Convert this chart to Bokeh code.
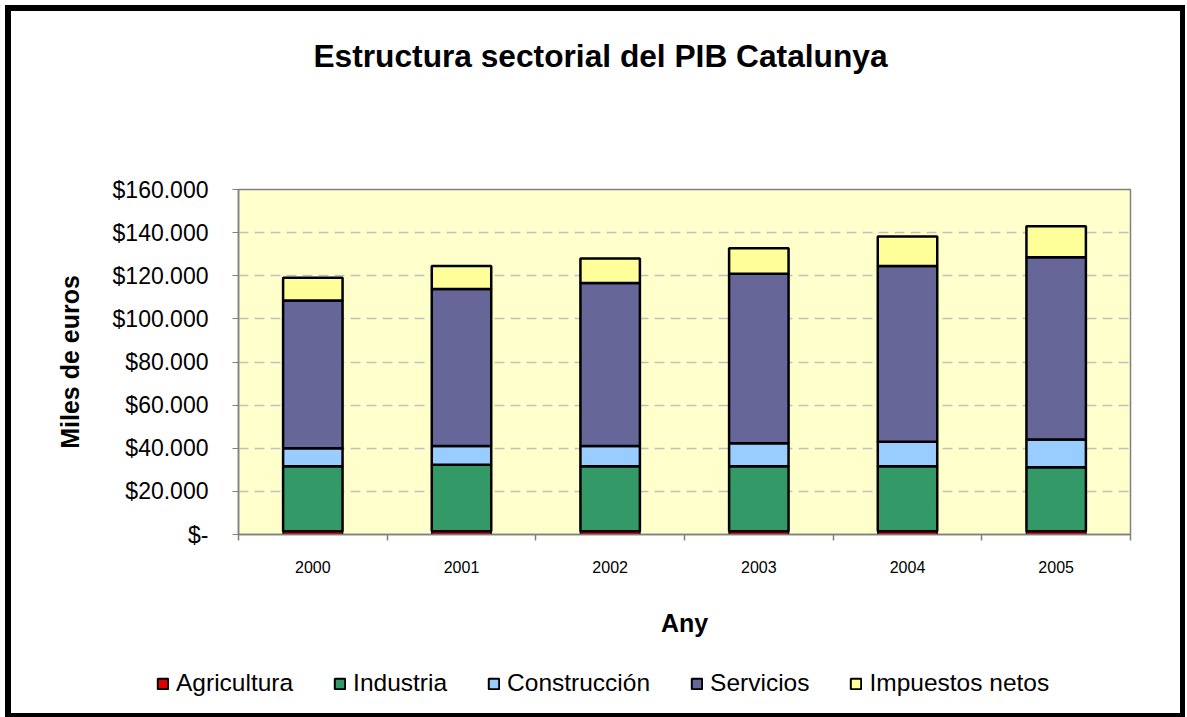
from bokeh.plotting import figure
from bokeh.layouts import column
from bokeh.models import FixedTicker, Legend, LegendItem, ColumnDataSource, Label
from bokeh.embed import file_html
from bokeh.resources import INLINE

# ---- data (thousands of euros) ----
years = ["2000", "2001", "2002", "2003", "2004", "2005"]
agricultura = [1500, 1500, 1500, 1500, 1500, 1500]
industria = [30200, 30800, 30200, 30200, 30200, 29700]
construccion = [8300, 8800, 9400, 10600, 11300, 12900]
servicios = [68500, 72700, 75500, 78600, 81500, 84500]
impuestos = [10600, 10700, 11400, 11900, 13700, 14400]

series_names = ["Agricultura", "Industria", "Construcción", "Servicios", "Impuestos netos"]
series_keys = ["agri", "ind", "cons", "serv", "imp"]
colors = ["#E00000", "#339966", "#99CCFF", "#666699", "#FFFF99"]
y_ticks = [0, 20000, 40000, 60000, 80000, 100000, 120000, 140000, 160000]
title_text = "Estructura sectorial del PIB Catalunya"

FONT = "Liberation Sans"
W = 1180


def strip(height, borders, margin):
    f = figure(width=W, height=height, output_backend="svg", toolbar_location=None,
               x_range=(-10, -9), y_range=(-10, -9), min_border=0,
               x_axis_location=None, y_axis_location=None,
               styles={"border-style": "solid", "border-color": "black", "border-width": borders})
    f.margin = margin
    f.frame_align = False
    f.grid.visible = False
    f.outline_line_color = None
    f.background_fill_color = "white"
    f.border_fill_color = "white"
    return f


xpos = [i + 0.5 for i in range(len(years))]
source = ColumnDataSource(dict(x=xpos, agri=agricultura, ind=industria, cons=construccion,
                               serv=servicios, imp=impuestos))

# ---- title strip ----
tf = strip(100, "6px 5px 0 6px", (5, 0, 0, 5))
tf.add_layout(Label(x=589, y=56, x_units="screen", y_units="screen", text=title_text,
                    text_font=FONT, text_font_size="31.7px", text_font_style="bold",
                    text_color="black", text_align="center", text_baseline="middle"))

# ---- main chart ----
p = figure(width=W, height=550, output_backend="svg", toolbar_location=None,
           x_range=(0, len(years)), y_range=(0, 160000),
           min_border_left=227, min_border_right=61, min_border_top=84, min_border_bottom=121,
           styles={"border-style": "solid", "border-color": "black", "border-width": "0 5px 0 6px"})
p.margin = (0, 0, 0, 5)
p.frame_align = False

p.background_fill_color = "#FFFFCC"
p.border_fill_color = "white"
p.outline_line_color = "#808080"
p.outline_line_width = 1.5

renderers = p.vbar_stack(series_keys, x="x", width=0.4, source=source,
                         fill_color=colors, line_color="black",
                         line_width=[1.5, 2.5, 2.5, 2.5, 2.5])

# grid
p.xgrid.visible = False
p.ygrid.grid_line_color = "#C0C0C0"
p.ygrid.grid_line_dash = "10 6"
p.ygrid.grid_line_width = 1.5
p.ygrid.ticker = FixedTicker(ticks=y_ticks)

# y axis
p.yaxis.ticker = FixedTicker(ticks=y_ticks)
p.yaxis.major_label_overrides = {t: ("$-" if t == 0 else "$" + f"{t:,}".replace(",", ".")) for t in y_ticks}
p.yaxis.major_label_text_font = FONT
p.yaxis.major_label_text_font_size = "23px"
p.yaxis.major_label_text_color = "black"
p.yaxis.major_label_standoff = 24
p.yaxis.axis_line_color = "#808080"
p.yaxis.axis_line_width = 1.5
p.yaxis.major_tick_line_color = "#808080"
p.yaxis.major_tick_out = 6
p.yaxis.major_tick_in = 0
p.yaxis.minor_tick_line_color = None
p.yaxis.axis_label = "Miles de euros"
p.yaxis.axis_label_text_font = FONT
p.yaxis.axis_label_text_font_size = "25px"
p.yaxis.axis_label_text_font_style = "bold"
p.yaxis.axis_label_text_color = "black"
p.yaxis.axis_label_standoff = 26

# x axis
p.xaxis.ticker = FixedTicker(ticks=xpos, minor_ticks=list(range(len(years) + 1)))
p.xaxis.major_label_overrides = {x: y for x, y in zip(xpos, years)}
p.xaxis.major_label_text_font = FONT
p.xaxis.major_label_text_font_size = "16px"
p.xaxis.major_label_text_color = "black"
p.xaxis.major_label_standoff = 20
p.xaxis.major_tick_in = 0
p.xaxis.major_tick_out = 0
p.xaxis.minor_tick_in = 0
p.xaxis.minor_tick_out = 6
p.xaxis.minor_tick_line_color = "#808080"
p.xaxis.minor_tick_line_width = 1.5
p.xaxis.axis_line_color = "#808080"
p.xaxis.axis_line_width = 1.5
p.xaxis.axis_label = "Any"
p.xaxis.axis_label_text_font = FONT
p.xaxis.axis_label_text_font_size = "25px"
p.xaxis.axis_label_text_font_style = "bold"
p.xaxis.axis_label_text_color = "black"
p.xaxis.axis_label_standoff = 33

# ---- legend strip (bottom part of the bordered chart) ----
lg = strip(62, "0 5px 4px 6px", (0, 0, 0, 5))
# legend proxies (same data, drawn outside the strip's visible range)
swatches = [lg.vbar(x="x", top=k, width=0.4, source=source, fill_color=c,
                    line_color="black", line_width=2) for k, c in zip(series_keys, colors)]
items = [LegendItem(label=n, renderers=[r]) for n, r in zip(series_names, swatches)]
legend = Legend(items=items, orientation="horizontal", location=(145, 20),
                glyph_width=13, glyph_height=13, label_standoff=7, spacing=40,
                label_text_font=FONT, label_text_font_size="24.5px", label_text_color="black",
                border_line_color=None, background_fill_alpha=0, padding=0, margin=0)
lg.add_layout(legend, "center")

layout = column(tf, p, lg, spacing=0)
open("out.html", "w").write(file_html(layout, INLINE))
